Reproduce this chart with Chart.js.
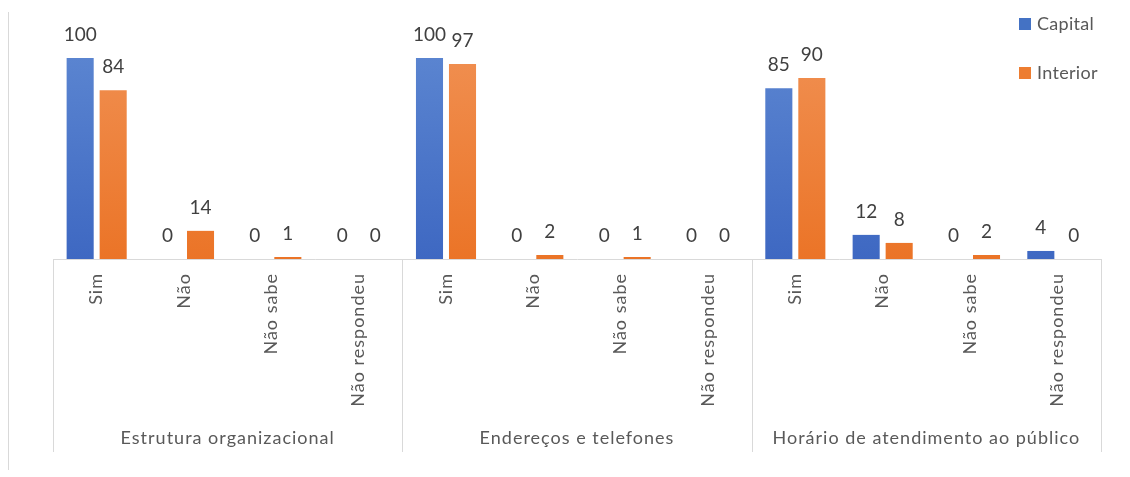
<!DOCTYPE html>
<html>
<head>
<meta charset="utf-8">
<script src="https://cdn.jsdelivr.net/npm/chart.js@4"></script>
<style>
  html, body { margin: 0; padding: 0; background: #fff; }
  #wrap { width: 1130px; height: 477px; }
</style>
</head>
<body>
<div id="wrap"><canvas id="grafico" width="1130" height="477"></canvas></div>
<script>
const groups = ['Estrutura organizacional', 'Endereços e telefones', 'Horário de atendimento ao público']
const answers = ['Sim', 'Não', 'Não sabe', 'Não respondeu']
const labels = [...answers, ...answers, ...answers]
const capital = [100, 0, 0, 0, 100, 0, 0, 0, 85, 12, 0, 4]
const interior = [84, 14, 1, 0, 97, 2, 1, 0, 90, 8, 2, 0]

const FONT = "Lato, sans-serif"

function grad(top, bottom) {
    return function(ctx) {
        const area = ctx.chart.chartArea
        if (!area) return bottom
        const g = ctx.chart.ctx.createLinearGradient(0, area.top, 0, area.bottom)
        g.addColorStop(0, top)
        g.addColorStop(1, bottom)
        return g
    }
}

// wider letter spacing, like the original font
const spacing = {
    id: 'spacing',
    beforeDraw(chart) {
        chart.ctx.letterSpacing = '1px'
    }
}

// numbers above the bars
const valueLabels = {
    id: 'valueLabels',
    afterDatasetsDraw(chart) {
        const ctx = chart.ctx
        ctx.save()
        ctx.letterSpacing = '0px'
        ctx.font = "19px " + FONT
        ctx.fillStyle = '#404040'
        ctx.textAlign = 'center'
        ctx.textBaseline = 'middle'
        chart.data.datasets.forEach((ds, i) => {
            chart.getDatasetMeta(i).data.forEach((bar, j) => {
                ctx.fillText(ds.data[j], bar.x, bar.y - 23)
            })
        })
        ctx.restore()
    }
}

// group separators, group names, legend, left frame line
const extras = {
    id: 'extras',
    afterDraw(chart) {
        const ctx = chart.ctx
        const x = chart.scales.x
        const bottom = chart.chartArea.bottom
        const step = x.width / labels.length
        ctx.save()
        ctx.strokeStyle = '#d9d9d9'
        ctx.lineWidth = 1
        ctx.beginPath()
        ctx.moveTo(8.5, 12)
        ctx.lineTo(8.5, 470)
        for (let g = 0; g <= groups.length; g++) {
            const px = Math.round(x.left + step * answers.length * g) + 0.5
            ctx.moveTo(px, bottom)
            ctx.lineTo(px, 452)
        }
        ctx.stroke()

        ctx.letterSpacing = '1px'
        ctx.font = "18px " + FONT
        ctx.fillStyle = '#595959'
        ctx.textAlign = 'center'
        ctx.textBaseline = 'middle'
        groups.forEach((name, g) => {
            const cx = x.left + step * answers.length * (g + 0.5)
            ctx.fillText(name, cx, 438)
        })

        // legend
        ctx.letterSpacing = '0.3px'
        ctx.textAlign = 'left'
        chart.data.datasets.forEach((ds, i) => {
            const y = 24 + i * 49
            ctx.fillStyle = ds.legendColor
            ctx.fillRect(1019, y - 6, 12, 12)
            ctx.fillStyle = '#595959'
            ctx.fillText(ds.label, 1037, y)
        })
        ctx.restore()
    }
}

const config = {
    type: 'bar',
    data: {
        labels: labels,
        datasets: [{
            label: 'Capital',
            data: capital,
            backgroundColor: grad('#5a84d0', '#3e68c2'),
            legendColor: '#4472c4',
            categoryPercentage: 0.756,
            barPercentage: 0.82
        }, {
            label: 'Interior',
            data: interior,
            backgroundColor: grad('#f08e4f', '#eb7427'),
            legendColor: '#ed7d31',
            categoryPercentage: 0.756,
            barPercentage: 0.82
        }]
    },
    options: {
        responsive: false,
        animation: false,
        layout: { padding: { top: 58, left: 53, right: 29, bottom: 0 } },
        plugins: {
            legend: { display: false },
            tooltip: { enabled: false }
        },
        scales: {
            y: { display: false, min: 0, max: 100 },
            x: {
                grid: { display: false },
                border: { display: true, color: '#d9d9d9' },
                ticks: {
                    autoSkip: false,
                    minRotation: 90,
                    maxRotation: 90,
                    padding: 6,
                    color: '#595959',
                    font: { family: FONT, size: 18 }
                },
                afterFit(scale) { scale.height = 218 }
            }
        }
    },
    plugins: [spacing, valueLabels, extras]
}

new Chart(document.getElementById('grafico'), config)
</script>
</body>
</html>
